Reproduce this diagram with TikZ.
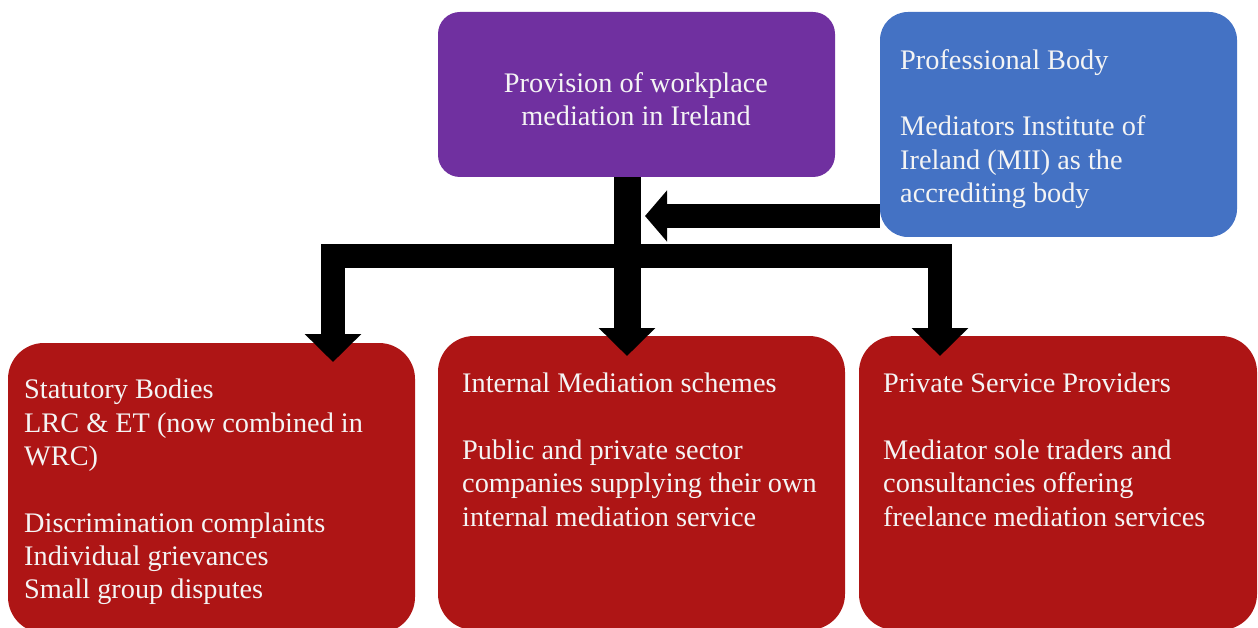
\documentclass[tikz,border=0pt]{standalone}
\usepackage{fontspec}
\setmainfont{Liberation Serif}
\usetikzlibrary{arrows.meta,calc}
\definecolor{boxpurple}{HTML}{7030A0}
\definecolor{boxblue}{HTML}{4472C4}
\definecolor{boxred}{HTML}{AE1515}
\definecolor{txtwhite}{HTML}{F4F4F4}
\tikzset{
  box/.style={draw=none, rounded corners=#1, inner sep=0pt},
  box/.default=28pt,
  txt/.style={text=txtwhite, font=\fontsize{28.3}{33.3}\selectfont, inner sep=0pt, align=left},
  bar/.style={line width=24pt, black, line join=miter},
  tipbar/.style={bar, -{Triangle[width=55pt,length=28pt]}},
  sidebar/.style={bar, -{Triangle[width=50pt,length=22pt]}},
}
\begin{document}
\begin{tikzpicture}[x=1pt,y=-1pt]
\useasboundingbox (0,0) rectangle (1258,628);
\coordinate (hub) at (627,256);
\coordinate (ltip) at (333,362);
\coordinate (rtip) at (940,356);
\coordinate (mtip) at (627,356);
\coordinate (btip) at (645,216);
% boxes
\node[box=22pt, fill=boxpurple, minimum width=397pt, minimum height=165pt] (top) at (636.5,94.5) {};
\node[box=28pt, fill=boxblue, minimum width=357pt, minimum height=225pt] (blue) at (1058.5,124.5) {};
\node[box=36pt, fill=boxred, minimum width=407pt, minimum height=290pt] (left) at (211.5,488) {};
\node[box=36pt, fill=boxred, minimum width=407pt, minimum height=294pt] (mid) at (641.5,483) {};
\node[box=36pt, fill=boxred, minimum width=398pt, minimum height=294pt] (right) at (1058,483) {};
% connectors
\draw[line width=27pt, black, -{Triangle[width=55pt,length=28pt]}] (top.south -| mtip) -- (mtip);
\draw[tipbar] (hub) -| (ltip);
\draw[tipbar] (hub) -| (rtip);
\draw[sidebar] (blue.west |- btip) -- (btip);
% texts
\node[txt, align=center, anchor=north] (toptxt) at (636,72) {Provision of workplace\\mediation in Ireland};
\node[txt, anchor=north west] (bluetxt) at (900,49) {Professional Body\\[33.3pt]Mediators Institute of\\Ireland (MII) as the\\accrediting body};
\node[txt, anchor=north west] (lefttxt) at (24,379) {Statutory Bodies\\LRC \& ET (now combined in\\WRC)\\[33.3pt]Discrimination complaints\\Individual grievances\\Small group disputes};
\node[txt, anchor=north west] (midtxt) at (462,373) {Internal Mediation schemes\\[33.3pt]Public and private sector\\companies supplying their own\\internal mediation service};
\node[txt, anchor=north west] (righttxt) at (883,373) {Private Service Providers\\[33.3pt]Mediator sole traders and\\consultancies offering\\freelance mediation services};
\end{tikzpicture}
\end{document}
